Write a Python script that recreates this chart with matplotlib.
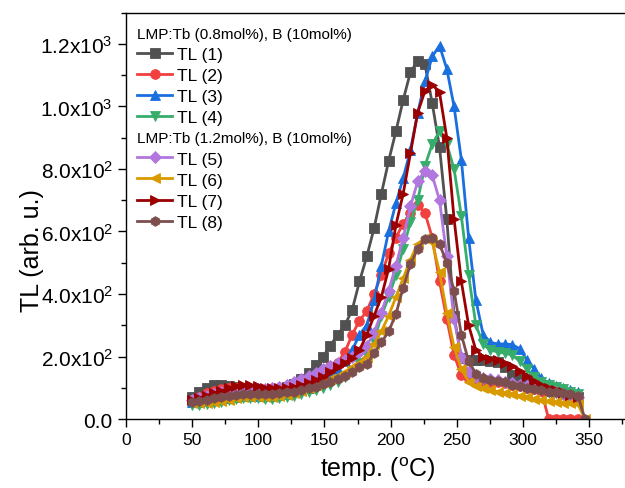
import numpy as np
import matplotlib
matplotlib.use("Agg")
import matplotlib.pyplot as plt
from matplotlib.ticker import MultipleLocator, FuncFormatter

plt.rcParams['font.family'] = ['Liberation Sans', 'DejaVu Sans']
plt.rcParams['mathtext.fontset'] = 'custom'
plt.rcParams['mathtext.rm'] = 'Liberation Sans'
plt.rcParams['mathtext.it'] = 'Liberation Sans:italic'

temp = [50, 55.5, 61, 66.5, 72, 77.5, 83, 88.5, 94, 99.5, 105, 110.5, 116, 121.5,
        127, 132.5, 138, 143.5, 149, 154.5, 160, 165.5, 171, 176.5, 182, 187.5,
        193, 198.5, 204, 209.5, 215, 220.5, 226, 231.5, 237, 242.5, 248, 253.5,
        259, 264.5, 270, 275.5, 281, 286.5, 292, 297.5, 303, 308.5, 314, 319.5,
        325, 330.5, 336, 341.5, 347]

tl1 = [72, 85, 98, 108, 110, 107, 102, 98, 95, 92, 90, 92, 95, 102,
       112, 128, 148, 172, 200, 235, 270, 300, 350, 440, 520, 610,
       720, 825, 920, 1020, 1110, 1145, 1135, 1010, 870, 640, 330, 195,
       190, 188, 188, 186, 182, 165, 140, 128, 115, 105, 98, 90,
       85, 80, 75, 70, np.nan]
tl2 = [60, 72, 82, 90, 95, 98, 98, 95, 92, 90, 88, 88, 90, 95,
       102, 112, 125, 140, 155, 170, 180, 215, 270, 315, 345, 400,
       460, 530, 580, 625, 660, 685, 660, 580, 440, 320, 205, 140,
       128, 125, 122, 120, 118, 115, 110, 105, 100, 95, 90, 0,
       0, 0, 0, 0, np.nan]
tl3 = [55, 55, 58, 62, 65, 68, 72, 75, 75, 75, 75, 75, 77, 80,
       85, 92, 100, 112, 125, 140, 160, 185, 220, 270, 300, 380,
       490, 600, 690, 770, 860, 980, 1080, 1160, 1195, 1120, 1000, 830,
       580, 380, 270, 245, 240, 240, 238, 225, 190, 160, 130, 115,
       105, 98, 92, 85, np.nan]
tl4 = [45, 45, 48, 52, 55, 60, 65, 68, 68, 66, 65, 65, 66, 70,
       75, 80, 85, 92, 100, 110, 120, 135, 155, 180, 205, 250,
       330, 390, 460, 545, 630, 700, 810, 880, 920, 880, 800, 650,
       460, 300, 240, 220, 215, 210, 205, 185, 160, 135, 120, 110,
       103, 95, 88, 80, np.nan]
tl5 = [60, 68, 75, 80, 85, 88, 92, 95, 95, 95, 95, 98, 103, 110,
       118, 128, 138, 148, 160, 170, 178, 190, 200, 215, 235, 275,
       340, 410, 490, 580, 680, 760, 795, 780, 700, 520, 320, 200,
       150, 135, 130, 128, 125, 120, 115, 110, 105, 100, 95, 90,
       85, 80, 75, 70, np.nan]
tl6 = [50, 50, 52, 55, 58, 62, 66, 70, 72, 72, 72, 72, 74, 78,
       84, 90, 98, 108, 118, 128, 138, 150, 165, 180, 200, 240,
       280, 330, 390, 450, 510, 560, 580, 565, 470, 340, 230, 160,
       120, 105, 98, 92, 88, 84, 80, 75, 70, 65, 60, 57,
       54, 52, 50, 48, 0]
tl7 = [60, 68, 75, 82, 90, 98, 105, 108, 108, 105, 100, 98, 98, 100,
       103, 108, 115, 125, 135, 150, 165, 180, 195, 220, 270, 330,
       390, 480, 620, 720, 850, 980, 1050, 1070, 1045, 900, 640, 440,
       300, 220, 200, 192, 188, 180, 170, 155, 138, 122, 110, 100,
       92, 85, 78, 70, np.nan]
tl8 = [55, 58, 62, 66, 70, 74, 78, 80, 80, 80, 80, 80, 82, 85,
       88, 92, 98, 104, 112, 120, 128, 138, 150, 165, 175, 210,
       245, 280, 335, 420, 495, 545, 575, 578, 560, 500, 410, 270,
       185, 145, 132, 125, 122, 118, 110, 105, 100, 95, 92, 88,
       85, 82, 80, 75, 0]

series = [tl1, tl2, tl3, tl4, tl5, tl6, tl7, tl8]
labels = ["TL (1)", "TL (2)", "TL (3)", "TL (4)", "TL (5)", "TL (6)", "TL (7)", "TL (8)"]
group_titles = ["LMP:Tb (0.8mol%), B (10mol%)", "LMP:Tb (1.2mol%), B (10mol%)"]
colors = ['#515151', '#F14040', '#1A6FDF', '#37AD6B', '#B177DE', '#D99A00', '#9B0000', '#7D4E4E']
markers = ['s', 'o', '^', 'v', 'D', '<', '>', 'h']

fig = plt.figure(figsize=(6.25, 4.89), dpi=100)
ax = fig.add_axes([0.2016, 0.1411, 0.8043, 0.8308])

handles = []
for y, lab, c, m in zip(series, labels, colors, markers):
    ms = 7.0 if m != 'D' else 6.0
    h, = ax.plot(temp, y, color=c, marker=m, markersize=ms, linewidth=2.0,
                 markeredgewidth=0.6, markeredgecolor=c, label=lab)
    handles.append(h)

ax.set_xlim(0, 380)
ax.set_ylim(0, 1300)
ax.xaxis.set_major_locator(MultipleLocator(50))
ax.xaxis.set_minor_locator(MultipleLocator(25))
ax.yaxis.set_major_locator(MultipleLocator(200))
ax.yaxis.set_minor_locator(MultipleLocator(100))


def yfmt(v, pos):
    if v == 0:
        return "0.0"
    e = int(np.floor(np.log10(abs(v))))
    m = v / 10 ** e
    return f"{m:.1f}x10$^{{{e}}}$"


ax.yaxis.set_major_formatter(FuncFormatter(yfmt))
ax.tick_params(which='both', direction='out', top=False, right=False, width=1.0)
ax.tick_params(which='major', length=6)
ax.tick_params(which='minor', length=3.5)
ax.tick_params(axis='x', labelsize=12.5)
ax.tick_params(axis='y', labelsize=15)
for s in ax.spines.values():
    s.set_linewidth(1.0)

ax.set_xlabel(r"temp. ($^{\mathrm{o}}$C)", fontsize=18, labelpad=5)
ax.set_ylabel("TL (arb. u.)", fontsize=18)
ax.yaxis.set_label_coords(-0.164, 0.418)

common = dict(loc='upper left', frameon=False, fontsize=12.5, title_fontsize=11,
              alignment='left', handlelength=2.0, handletextpad=0.3,
              labelspacing=0.34, borderpad=0.3)
leg1 = ax.legend(handles=handles[:4], title=group_titles[0],
                 bbox_to_anchor=(-0.005, 1.0), **common)
ax.add_artist(leg1)
leg2 = ax.legend(handles=handles[4:], title=group_titles[1],
                 bbox_to_anchor=(-0.005, 0.742), **common)

fig.savefig("out.png", dpi=100)
